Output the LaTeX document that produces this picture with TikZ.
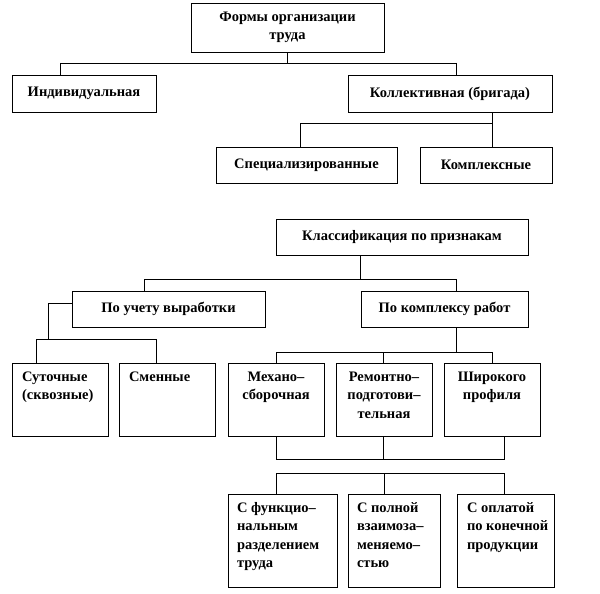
\documentclass[tikz,border=0pt]{standalone}
\usepackage{fontspec}
\setmainfont{Liberation Serif}
\newcommand{\cellL}[3]{\parbox[c][#1][t]{#2}{\raggedright\rule{0pt}{18pt}#3}}
\newcommand{\cellC}[3]{\parbox[c][#1][t]{#2}{\centering\rule{0pt}{18pt}#3}}

\begin{document}
\begin{tikzpicture}[x=1pt,y=-1pt,
  box/.style={draw,line width=.8pt,inner sep=0pt,align=center,
    font=\bfseries\fontsize{14.5}{18.5}\selectfont},
  cell/.style={draw,line width=.8pt,inner ysep=0pt,inner xsep=10pt,
    font=\bfseries\fontsize{14.5}{18.5}\selectfont},
  link/.style={line width=.8pt}]
\useasboundingbox (0,0) rectangle (600,594);

\node[box,minimum width=193pt,minimum height=49pt] (Forms) at (287.5,27.5) {Формы организации\\труда};
\node[box,minimum width=144pt,minimum height=37pt] (Indiv) at (84,93.5) {Индивидуальная};
\node[box,minimum width=204pt,minimum height=37pt] (Collect) at (450,93.5) {Коллективная (бригада)};
\node[box,minimum width=181pt,minimum height=36pt] (Spec) at (306.5,165) {Специализированные};
\node[box,minimum width=132pt,minimum height=36pt] (Compl) at (486,165) {Комплексные};

\node[box,minimum width=252pt,minimum height=36pt] (Class) at (402,237) {Классификация по признакам};
\node[box,minimum width=193pt,minimum height=36pt] (Output) at (168.5,309) {По учету выработки};
\node[box,minimum width=167pt,minimum height=36pt] (Works) at (444.5,309) {По комплексу работ};

\node[cell] (Daily) at (60,399.5) {\cellL{73pt}{76pt}{Суточные\\(сквозные)}};
\node[cell] (Shift) at (167,399.5) {\cellL{73pt}{76pt}{Сменные}};
\node[cell] (Mech) at (276,399.5) {\cellC{73pt}{76pt}{Механо–\\сборочная}};
\node[cell] (Repair) at (384,399.5) {\cellC{73pt}{76pt}{Ремонтно–\\подготови–\\тельная}};
\node[cell] (Wide) at (492,399.5) {\cellC{73pt}{76pt}{Широкого\\профиля}};

\node[cell,inner xsep=9pt] (Func) at (282.5,540.5) {\cellL{93pt}{91pt}{С функцио–\\нальным\\разделением\\труда}};
\node[cell,inner xsep=9pt] (Full) at (394,540.5) {\cellL{93pt}{74pt}{С полной\\взаимоза–\\меняемо–\\стью}};
\node[cell,inner xsep=10pt] (Pay) at (505.5,540.5) {\cellL{93pt}{77pt}{С оплатой\\\mbox{по конечной}\\продукции}};

\coordinate (fL) at (60,63);
\coordinate (fR) at (456,63);
\draw[link] (Forms.south) -- (Forms.south|-fL);
\draw[link] (fL) -- (fR);
\draw[link] (fL) -- (fL|-Indiv.north);
\draw[link] (fR) -- (fR|-Collect.north);

\coordinate (cL) at (300,123);
\coordinate (cR) at (492,123);
\draw[link] (cR|-Collect.south) -- (cR|-Compl.north);
\draw[link] (cL) -- (cR);
\draw[link] (cL) -- (cL|-Spec.north);

\coordinate (kM) at (360,279);
\coordinate (kL) at (144,279);
\coordinate (kR) at (456,279);
\draw[link] (kM|-Class.south) -- (kM);
\draw[link] (kL) -- (kR);
\draw[link] (kL) -- (kL|-Output.north);
\draw[link] (kR) -- (kR|-Works.north);

\coordinate (oT) at (48,303);
\coordinate (oC) at (48,339);
\coordinate (oL) at (36,339);
\coordinate (oR) at (156,339);
\draw[link] (oT-|Output.west) -- (oT) -- (oC);
\draw[link] (oL) -- (oR);
\draw[link] (oL) -- (oL|-Daily.north);
\draw[link] (oR) -- (oR|-Shift.north);

\coordinate (wM) at (456,352);
\coordinate (wL) at (276,352);
\coordinate (wC) at (383,352);
\coordinate (wR) at (492,352);
\draw[link] (wM|-Works.south) -- (wM);
\draw[link] (wL) -- (wR);
\draw[link] (wL) -- (wL|-Mech.north);
\draw[link] (wC) -- (wC|-Repair.north);
\draw[link] (wR) -- (wR|-Wide.north);

\coordinate (bL) at (276,459);
\coordinate (bM) at (383,459);
\coordinate (bR) at (504,459);
\draw[link] (bL|-Mech.south) -- (bL) -- (bR) -- (bR|-Wide.south);
\draw[link] (bM|-Repair.south) -- (bM);

\coordinate (dL) at (276,473);
\coordinate (dM) at (384,473);
\coordinate (dR) at (504,473);
\draw[link] (dL|-Func.north) -- (dL) -- (dR) -- (dR|-Pay.north);
\draw[link] (dM) -- (dM|-Full.north);

\end{tikzpicture}
\end{document}
